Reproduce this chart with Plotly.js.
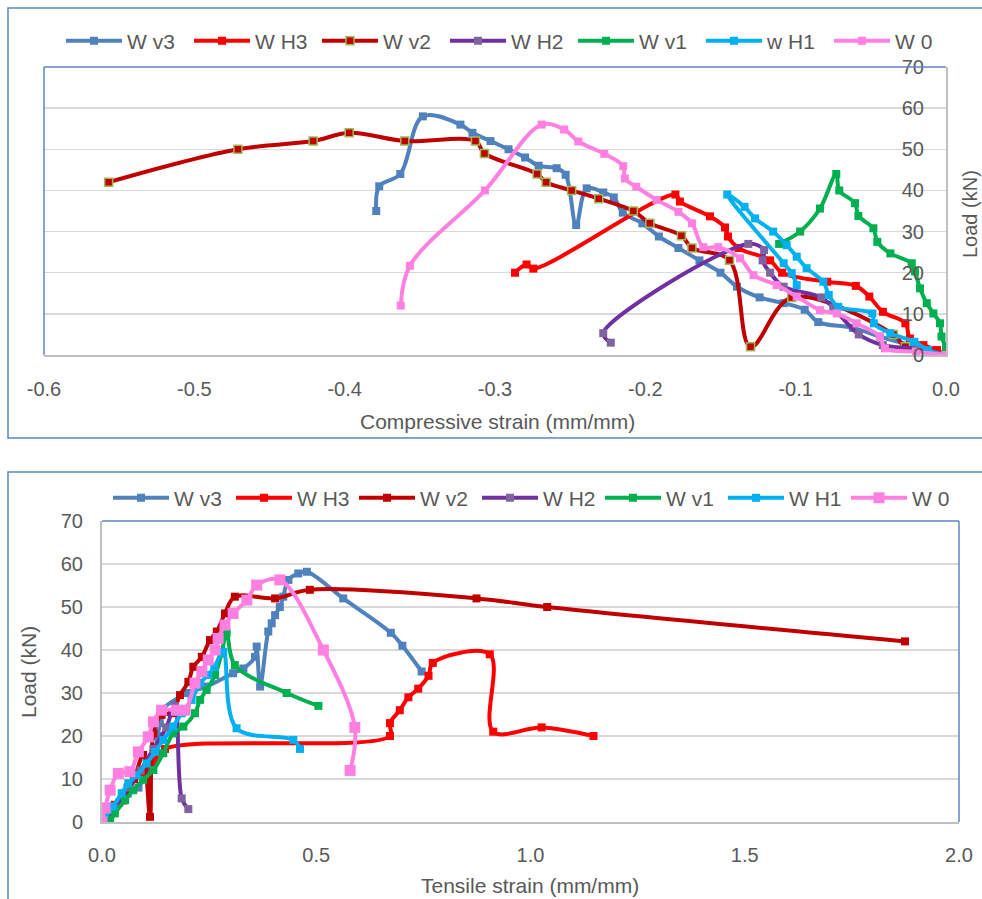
<!DOCTYPE html>
<html><head><meta charset="utf-8">
<script src="https://cdn.plot.ly/plotly-3.0.1.min.js"></script>
<style>html,body{margin:0;padding:0;background:#fff}</style>
</head><body><div id="chart" style="width:982px;height:899px"></div>
<script>
// ---------- data: compressive strain (top chart) ----------
const compNames = ["W v3", "W H3", "W v2", "W H2", "W v1", "w H1", "W 0"];
const tenNames  = ["W v3", "W H3", "W v2", "W H2", "W v1", "W H1", "W 0"];

const compWv3X = [0, -0.020, -0.044, -0.062, -0.085, -0.094, -0.108, -0.124, -0.139, -0.150, -0.164, -0.178, -0.191, -0.202, -0.215, -0.221, -0.228, -0.239, -0.246, -0.253, -0.259, -0.271, -0.280, -0.291, -0.303, -0.315, -0.323, -0.348, -0.363, -0.377, -0.379];
const compWv3Y = [0, 2, 4.5, 6.6, 8, 11, 12.6, 14, 16.6, 20, 23, 26, 28.8, 32, 34.6, 38.3, 39.5, 40.5, 31.6, 43.8, 45.4, 46, 48, 50, 52, 54, 56, 58, 44, 41, 35];

const compWH3X = [0, -0.006, -0.015, -0.024, -0.027, -0.042, -0.051, -0.060, -0.079, -0.109, -0.117, -0.138, -0.145, -0.147, -0.157, -0.177, -0.180, -0.2745, -0.279, -0.2867];
const compWH3Y = [0, 1.2, 2.4, 4, 7.7, 10.5, 14.2, 16.8, 17.8, 20, 23, 26, 28.8, 31, 33.7, 37.3, 39, 21, 22, 20];

const compWv2X = [0, -0.027, -0.035, -0.1026, -0.130, -0.144, -0.169, -0.176, -0.197, -0.208, -0.231, -0.249, -0.266, -0.272, -0.307, -0.313, -0.360, -0.397, -0.421, -0.471, -0.557];
const compWv2Y = [0, 2, 5, 14, 2, 23, 26, 29, 32, 35, 38, 40, 42, 44, 49, 52, 52, 54, 52, 50, 42];

const compWH2X = [0, -0.020, -0.042, -0.058, -0.075, -0.083, -0.108, -0.117, -0.122, -0.121, -0.1315, -0.228, -0.223];
const compWH2Y = [0, 1.5, 2.4, 5, 11.5, 14, 16.6, 20, 23, 25.5, 27, 5.3, 3];

const compWv1X = [0, 0, -0.003, -0.004, -0.0084, -0.0128, -0.0173, -0.0206, -0.0228, -0.037, -0.0457, -0.0483, -0.0583, -0.0605, -0.071, -0.073, -0.0838, -0.097, -0.111];
const compWv1Y = [0, 1.6, 4.5, 7.7, 10.1, 12.6, 16.2, 20.3, 22.3, 24.7, 27.5, 30.8, 33.8, 36.9, 40, 44, 35.6, 30, 27];

const compWH1X = [0, -0.012, -0.021, -0.037, -0.048, -0.049, -0.0716, -0.078, -0.0816, -0.0927, -0.0993, -0.106, -0.115, -0.127, -0.134, -0.1455, -0.108, -0.1026, -0.0993];
const compWH1Y = [0, 1.2, 3.2, 5.3, 7.7, 10.1, 11.7, 14.6, 17.8, 21.1, 23.9, 26.7, 30, 33.2, 36, 39, 22.3, 19.9, 17];

const compW0X = [0, -0.020, -0.0406, -0.044, -0.0594, -0.0727, -0.0838, -0.0993, -0.1126, -0.128, -0.137, -0.1515, -0.1614, -0.169, -0.178, -0.1925, -0.206, -0.2136, -0.2147, -0.2273, -0.2446, -0.254, -0.269, -0.3067, -0.3566, -0.3627];
const compW0Y = [0, 0.8, 1.6, 4.5, 7.7, 10.1, 10.9, 14.2, 17, 19.4, 23.5, 26.2, 26.2, 32, 34.8, 37.7, 40.9, 42.9, 45.9, 48.9, 51.9, 54.8, 56, 40, 21.7, 12];

// ---------- data: tensile strain (bottom chart) ----------
const tenWv3X = [0, 0.02, 0.04, 0.06, 0.085, 0.10, 0.11, 0.12, 0.125, 0.13, 0.135, 0.14, 0.20, 0.244, 0.306, 0.33, 0.357, 0.361, 0.369, 0.388, 0.396, 0.404, 0.415, 0.423, 0.435, 0.458, 0.478, 0.563, 0.674, 0.701, 0.746];
const tenWv3Y = [0, 2, 4.5, 6.6, 8, 11, 12.6, 14, 16.6, 20, 23, 26, 30, 31.5, 34.6, 35.7, 38.4, 40.8, 31.5, 44.3, 46.2, 48.1, 50, 52.4, 56.3, 57.8, 58.2, 52, 44, 41, 35];

const tenWH3X = [0, 0.03, 0.06, 0.09, 0.12, 0.147, 0.672, 0.672, 0.695, 0.715, 0.738, 0.762, 0.772, 0.905, 0.913, 1.026, 1.147];
const tenWH3Y = [0, 4, 8, 11, 14, 17, 20, 23, 26, 29, 31, 34, 37, 39, 21, 22, 20];

const tenWv2X = [0, 0.02, 0.05, 0.075, 0.096, 0.112, 0.12, 0.139, 0.163, 0.182, 0.2015, 0.213, 0.233, 0.252, 0.268, 0.287, 0.31, 0.404, 0.485, 0.874, 1.039, 1.874];
const tenWv2Y = [0, 2, 5, 10, 15.6, 1.2, 20.6, 24.9, 25.3, 29.5, 32.6, 36.1, 38.4, 42.3, 44.3, 48.5, 52.4, 52, 54, 52, 50, 42];

const tenWH2X = [0, 0.03, 0.06, 0.09, 0.12, 0.15, 0.17, 0.186, 0.2015];
const tenWH2Y = [0, 3, 8, 12, 17, 22, 27, 5.5, 3];

const tenWv1X = [0, 0.019, 0.03, 0.054, 0.073, 0.096, 0.12, 0.143, 0.166, 0.19, 0.217, 0.229, 0.244, 0.264, 0.279, 0.291, 0.31, 0.431, 0.505];
const tenWv1Y = [0, 0.5, 2, 5.1, 7.4, 9.8, 12.1, 16, 20.6, 22.2, 25.3, 28.4, 30.7, 34.2, 39.2, 44, 36.5, 30, 27];

const tenWH1X = [0, 0.026, 0.046, 0.0614, 0.081, 0.104, 0.124, 0.143, 0.166, 0.186, 0.209, 0.229, 0.248, 0.262, 0.283, 0.314, 0.4465, 0.462];
const tenWH1Y = [0, 3.6, 6.7, 9, 10.9, 13.6, 16.3, 19.1, 22.2, 25.3, 28.4, 32.3, 34.2, 36, 39.6, 21.8, 19.1, 17];

const tenW0X = [0, 0.007, 0.019, 0.038, 0.065, 0.085, 0.108, 0.12, 0.139, 0.174, 0.194, 0.217, 0.233, 0.248, 0.264, 0.271, 0.287, 0.306, 0.338, 0.361, 0.415, 0.5165, 0.590, 0.579];
const tenW0Y = [0, 3.3, 7.4, 11.3, 11.7, 16.3, 19.8, 23.3, 26, 26, 26, 32.3, 35, 37.7, 40, 42.7, 45.8, 48.5, 51.6, 55.1, 56.3, 40, 22, 12];

// ---------- tick labels ----------
const compTickVals = [-0.6, -0.5, -0.4, -0.3, -0.2, -0.1, 0];
const compTickText = ["-0.6", "-0.5", "-0.4", "-0.3", "-0.2", "-0.1", "0.0"];
const tenTickVals = [0, 0.5, 1, 1.5, 2];
const tenTickText = ["0.0", "0.5", "1.0", "1.5", "2.0"];
const loadTickVals = [0, 10, 20, 30, 40, 50, 60, 70];
const loadTickText = ["0", "10", "20", "30", "40", "50", "60", "70"];

// ---------- styling ----------
const W = 982, H = 899;
const FONT = '"Liberation Sans", Arial, sans-serif';
const TXT = '#595959';
const BLUE = '#5b86c4';
const lineColors = ['#4F81BD', '#FF0000', '#C00000', '#7030A0', '#00B050', '#00B0F0', '#FF80E0'];
const markerColors = ['#4F81BD', '#FF0000', '#C00000', '#8064A2', '#00B050', '#00B0F0', '#FF80E0'];

const compData = [[compWv3X, compWv3Y], [compWH3X, compWH3Y], [compWv2X, compWv2Y], [compWH2X, compWH2Y], [compWv1X, compWv1Y], [compWH1X, compWH1Y], [compW0X, compW0Y]];
const tenData = [[tenWv3X, tenWv3Y], [tenWH3X, tenWH3Y], [tenWv2X, tenWv2Y], [tenWH2X, tenWH2Y], [tenWv1X, tenWv1Y], [tenWH1X, tenWH1Y], [tenW0X, tenW0Y]];

const traces = [];
compData.forEach((d, i) => {
  traces.push({
    type: 'scatter', mode: 'lines+markers', name: compNames[i],
    x: d[0], y: d[1], xaxis: 'x', yaxis: 'y', legend: 'legend',
    line: {color: lineColors[i], width: 4, shape: 'spline', smoothing: 1},
    marker: {symbol: 'square', size: 8, color: markerColors[i],
             line: i === 2 ? {color: '#9BBB59', width: 1.5} : {width: 0}}
  });
});
tenData.forEach((d, i) => {
  traces.push({
    type: 'scatter', mode: 'lines+markers', name: tenNames[i],
    x: d[0], y: d[1], xaxis: 'x2', yaxis: 'y2', legend: 'legend2',
    line: {color: lineColors[i], width: 4, shape: 'spline', smoothing: 1},
    marker: {symbol: 'square', size: i === 6 ? 11 : 8, color: markerColors[i], line: {width: 0}}
  });
});

const px = v => v / W, py = v => 1 - v / H;

const axisCommon = {
  showline: true, linecolor: '#BFBFBF', linewidth: 2, zeroline: false, ticks: '',
  tickfont: {family: FONT, size: 20, color: TXT}, fixedrange: true
};

const paperLine = (x0, y0, x1, y1) => ({
  type: 'line', xref: 'paper', yref: 'paper', x0: px(x0), y0: py(y0), x1: px(x1), y1: py(y1),
  line: {color: BLUE, width: 1.5}, layer: 'above'
});

const layout = {
  width: W, height: H,
  margin: {l: 0, r: 0, t: 0, b: 0, autoexpand: false},
  paper_bgcolor: '#ffffff', plot_bgcolor: 'rgba(0,0,0,0)',
  font: {family: FONT, color: TXT},
  showlegend: true,
  xaxis: Object.assign({}, axisCommon, {
    domain: [px(44), px(946)], range: [-0.6, 0], anchor: 'y',
    tickmode: 'array', tickvals: compTickVals, ticktext: compTickText,
    showgrid: false, ticklabelstandoff: 15
  }),
  yaxis: Object.assign({}, axisCommon, {
    domain: [py(355), py(67)], range: [0, 70], anchor: 'x', side: 'right',
    ticklabelposition: 'inside', ticklabelstandoff: 23, ticklabeloverflow: 'allow',
    tickmode: 'array', tickvals: loadTickVals, ticktext: loadTickText,
    showgrid: true, gridcolor: '#D9D9D9', gridwidth: 1.5
  }),
  xaxis2: Object.assign({}, axisCommon, {
    domain: [px(102), px(959)], range: [0, 2], anchor: 'y2',
    tickmode: 'array', tickvals: tenTickVals, ticktext: tenTickText,
    showgrid: false, ticklabelstandoff: 14
  }),
  yaxis2: Object.assign({}, axisCommon, {
    domain: [py(822), py(521)], range: [0, 70], anchor: 'x2',
    tickmode: 'array', tickvals: loadTickVals, ticktext: loadTickText,
    showgrid: true, gridcolor: '#D9D9D9', gridwidth: 1.5, ticklabelstandoff: 13
  }),
  legend: {
    orientation: 'h', x: px(61), y: py(41), xanchor: 'left', yanchor: 'middle',
    font: {family: FONT, size: 21, color: TXT}, bgcolor: 'rgba(0,0,0,0)',
    itemwidth: 56, entrywidth: 57, traceorder: 'normal'
  },
  legend2: {
    orientation: 'h', x: px(108), y: py(498), xanchor: 'left', yanchor: 'middle',
    font: {family: FONT, size: 21, color: TXT}, bgcolor: 'rgba(0,0,0,0)',
    itemwidth: 56, entrywidth: 52, traceorder: 'normal'
  },
  shapes: [
    {type: 'rect', xref: 'paper', yref: 'paper', x0: px(8), x1: 1.02, y0: py(438), y1: py(8),
     line: {color: BLUE, width: 1.5}, layer: 'below'},
    {type: 'rect', xref: 'paper', yref: 'paper', x0: px(8), x1: 1.02, y0: -0.02, y1: py(472),
     line: {color: BLUE, width: 1.5}, layer: 'below'},
    paperLine(44, 67, 946, 67),
    paperLine(44, 67, 44, 355),
    paperLine(102, 521, 959, 521),
    paperLine(959, 521, 959, 822)
  ],
  annotations: [
    {text: 'Compressive strain (mm/mm)', x: px(497), y: py(422), xref: 'paper', yref: 'paper',
     showarrow: false, xanchor: 'center', yanchor: 'middle', font: {family: FONT, size: 21, color: TXT}},
    {text: 'Load (kN)', x: px(970), y: py(214), xref: 'paper', yref: 'paper', textangle: -90,
     showarrow: false, xanchor: 'center', yanchor: 'middle', font: {family: FONT, size: 20, color: TXT}},
    {text: 'Tensile strain (mm/mm)', x: px(530), y: py(885), xref: 'paper', yref: 'paper',
     showarrow: false, xanchor: 'center', yanchor: 'middle', font: {family: FONT, size: 21, color: TXT}},
    {text: 'Load (kN)', x: px(28), y: py(672), xref: 'paper', yref: 'paper', textangle: -90,
     showarrow: false, xanchor: 'center', yanchor: 'middle', font: {family: FONT, size: 21, color: TXT}}
  ]
};

Plotly.newPlot('chart', traces, layout, {displayModeBar: false, staticPlot: true});
</script>
</body></html>
